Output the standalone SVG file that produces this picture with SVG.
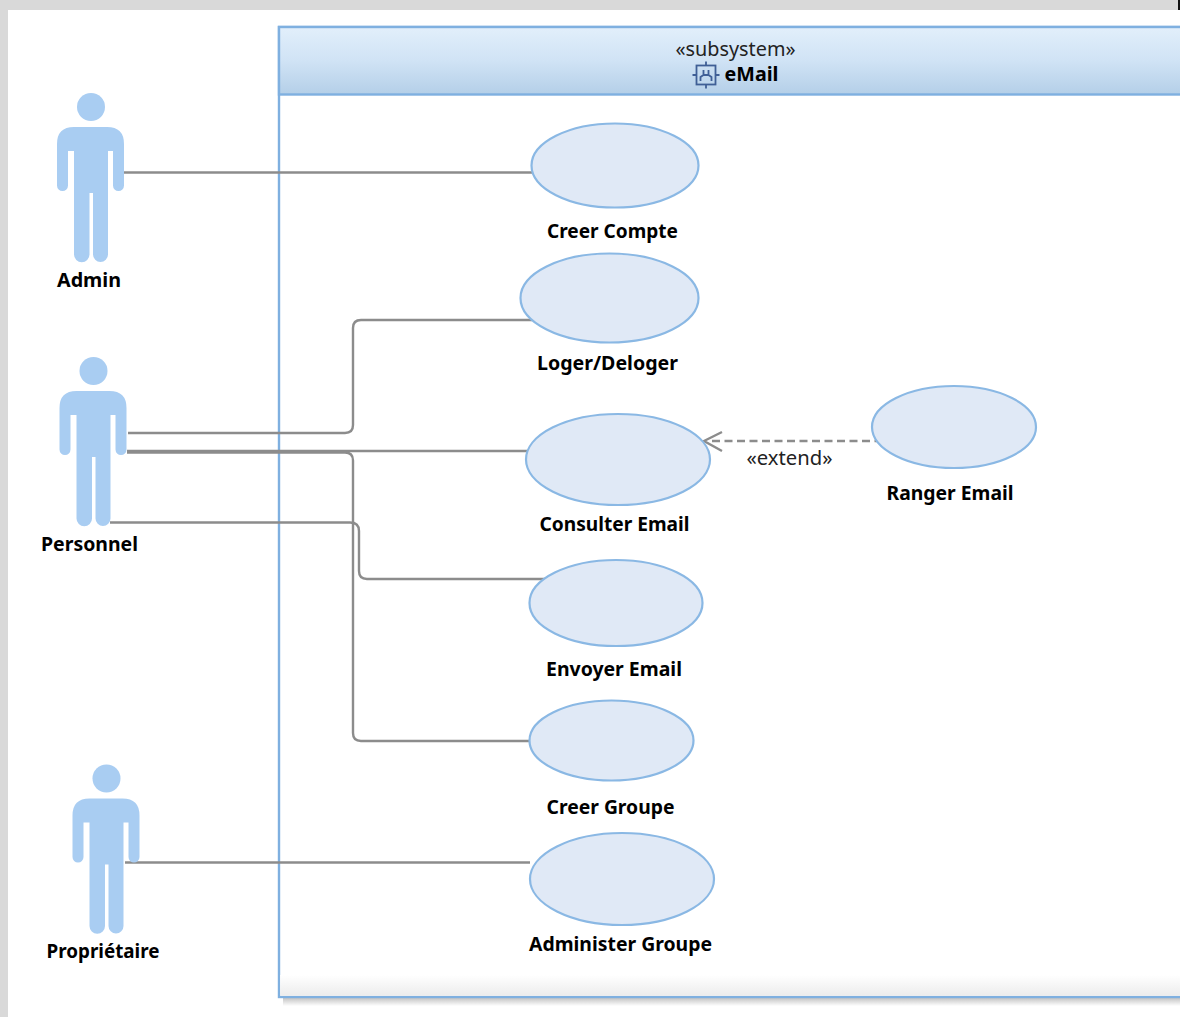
<svg xmlns="http://www.w3.org/2000/svg" width="1180" height="1017" viewBox="0 0 1180 1017">
<style>
text{font-family:"Noto Sans","Open Sans","Liberation Sans",sans-serif;fill:#000;text-anchor:middle}
.lbl{font-size:19.5px;font-weight:700}
.ster{font-size:19.5px;font-weight:400;fill:#222}
.uc{fill:#e0e9f6;stroke:#8ab8e4;stroke-width:2.2}
.con{fill:none;stroke:#8c8c8c;stroke-width:2.4}
.actor{fill:#a9cdf2}
</style>
<defs>
<linearGradient id="hdr" x1="0" y1="0" x2="0" y2="1"><stop offset="0" stop-color="#e2effb"/><stop offset="0.5" stop-color="#d0e3f5"/><stop offset="1" stop-color="#b4cfe8"/></linearGradient>
<linearGradient id="foot" x1="0" y1="0" x2="0" y2="1"><stop offset="0" stop-color="#ffffff"/><stop offset="1" stop-color="#ececec"/></linearGradient>
<linearGradient id="shad" x1="0" y1="0" x2="0" y2="1"><stop offset="0" stop-color="#c4c4c4"/><stop offset="1" stop-color="#ffffff"/></linearGradient>
<g id="stick">
<circle cx="34" cy="14" r="14"/>
<path d="M17 34H50Q67 34 67 51V92.500A5.500 5.500 0 0 1 56 92.500V58H51V161.500A7.500 7.500 0 0 1 36 161.500V100H32.500V161.500A7.500 7.500 0 0 1 17 161.500V58H11V92.500A5.500 5.500 0 0 1 0 92.500V51Q0 34 17 34Z"/>
</g>
</defs>
<rect width="1180" height="1017" fill="#d9d9d9"/>
<rect x="8" y="10" width="1172" height="1007" fill="#fff"/>
<rect x="1178" y="0" width="2" height="10" fill="#111"/>
<g id="subsystem">
<rect x="283" y="998" width="897" height="8" fill="url(#shad)"/>
<rect x="279" y="27" width="903" height="970" fill="#fff" stroke="#7fb0e0" stroke-width="2.400"/>
<rect x="280.200" y="975" width="900" height="20.800" fill="url(#foot)"/>
<rect x="279" y="27" width="903" height="67.500" fill="url(#hdr)" stroke="#7fb0e0" stroke-width="2.400"/>
<text class="ster" x="735.500" y="56" textLength="120" lengthAdjust="spacingAndGlyphs">«subsystem»</text>
<g fill="none" stroke="#3f5f96" stroke-width="1.800">
<rect x="696.500" y="65.500" width="19" height="19"/>
<path d="M706 61.500V65.500M706 84.500V88.500M692.500 75H696.500M715.500 75H719.500M700.500 81V77L703.500 75V70M708.500 70V75L711.500 77V81M703.500 75H708.500"/>
</g>
<text class="lbl" x="751.500" y="80.500" textLength="54" lengthAdjust="spacingAndGlyphs">eMail</text>
</g>
<g id="connectors">
<path class="con" d="M123 172.500H532"/>
<path class="con" d="M128 433H345Q353 433 353 425V328Q353 320 361 320H532"/>
<path class="con" d="M127 451H527"/>
<path class="con" d="M127 452.500H345Q353 452.500 353 460.500V733Q353 741 361 741H530"/>
<path class="con" d="M110 522.500H350Q359 522.500 359 531V571Q359 579 367 579H545"/>
<path class="con" d="M125 862.500H530"/>
<path class="con" stroke-dasharray="8 4.500" d="M712 441H877"/>
<path class="con" stroke-width="2.800" d="M722 432L704 441L722 451"/>
</g>
<g id="actor-admin" class="actor"><use href="#stick" x="57" y="93"/><text class="lbl" x="89" y="287" textLength="64" lengthAdjust="spacingAndGlyphs">Admin</text></g>
<g id="actor-personnel" class="actor"><use href="#stick" x="59.500" y="357"/><text class="lbl" x="89.500" y="551" textLength="97" lengthAdjust="spacingAndGlyphs">Personnel</text></g>
<g id="actor-proprietaire" class="actor"><use href="#stick" x="72.500" y="764.500"/><text class="lbl" x="103" y="958" textLength="113" lengthAdjust="spacingAndGlyphs">Propriétaire</text></g>
<g id="uc-creer-compte"><ellipse class="uc" cx="615" cy="165.500" rx="83.500" ry="42"/><text class="lbl" x="612.500" y="238" textLength="131" lengthAdjust="spacingAndGlyphs">Creer Compte</text></g>
<g id="uc-loger"><ellipse class="uc" cx="609.500" cy="298" rx="89" ry="44.500"/><text class="lbl" x="607.500" y="370" textLength="141" lengthAdjust="spacingAndGlyphs">Loger/Deloger</text></g>
<g id="uc-consulter"><ellipse class="uc" cx="618" cy="459.500" rx="92" ry="45.500"/><text class="lbl" x="614.500" y="531" textLength="150" lengthAdjust="spacingAndGlyphs">Consulter Email</text></g>
<g id="uc-ranger"><ellipse class="uc" cx="954" cy="427" rx="82" ry="41"/><text class="lbl" x="950" y="500" textLength="127" lengthAdjust="spacingAndGlyphs">Ranger Email</text></g>
<g id="uc-envoyer"><ellipse class="uc" cx="616" cy="603" rx="86.500" ry="43"/><text class="lbl" x="614" y="676" textLength="136" lengthAdjust="spacingAndGlyphs">Envoyer Email</text></g>
<g id="uc-creer-groupe"><ellipse class="uc" cx="611.500" cy="740.500" rx="82" ry="40"/><text class="lbl" x="610.500" y="814" textLength="128" lengthAdjust="spacingAndGlyphs">Creer Groupe</text></g>
<g id="uc-administer"><ellipse class="uc" cx="622" cy="879" rx="92" ry="46"/><text class="lbl" x="620.500" y="951" textLength="183" lengthAdjust="spacingAndGlyphs">Administer Groupe</text></g>
<text class="ster" x="789.500" y="464.500" textLength="86" lengthAdjust="spacingAndGlyphs">«extend»</text>
</svg>
